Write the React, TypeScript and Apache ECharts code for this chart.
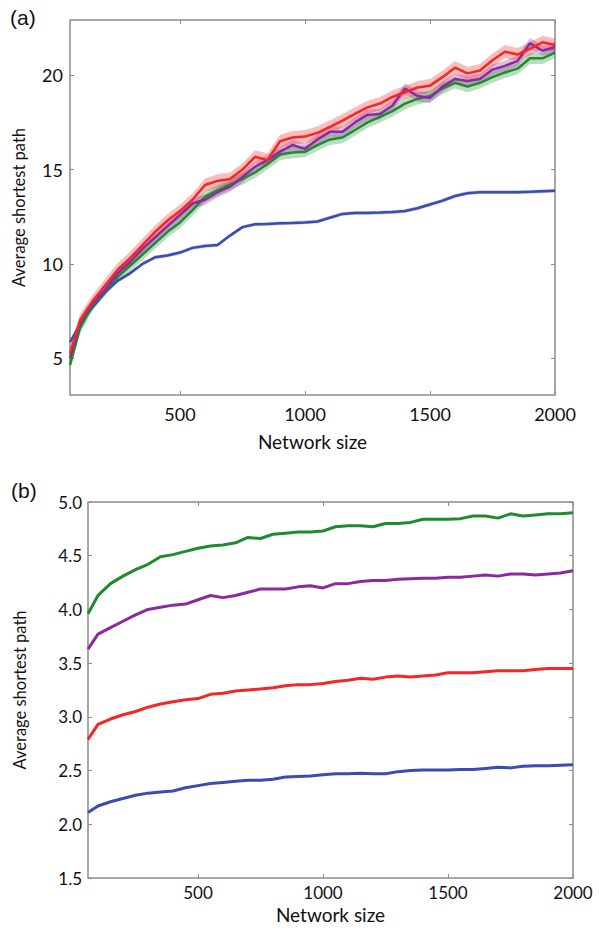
import React, { useEffect, useRef } from "react";
import * as echarts from "echarts";

// Network sizes (x)
const sizes = [60, 100, 150, 200, 250, 300, 350, 400, 450, 500, 550, 600, 650, 700, 750, 800, 850, 900, 950, 1000,
  1050, 1100, 1150, 1200, 1250, 1300, 1350, 1400, 1450, 1500, 1550, 1600, 1650, 1700, 1750, 1800, 1850, 1900, 1950, 2000];

// Panel (a)
const aBlue = [5.85, 6.8, 7.7, 8.5, 9.1, 9.5, 10.0, 10.35, 10.45, 10.6, 10.85, 10.95, 11.0, 11.5, 11.95, 12.1, 12.12, 12.15, 12.17, 12.2,
  12.25, 12.45, 12.65, 12.7, 12.7, 12.72, 12.75, 12.8, 12.95, 13.15, 13.35, 13.6, 13.75, 13.8, 13.8, 13.8, 13.8, 13.82, 13.85, 13.88];
const aRed = [5.26, 7.0, 8.0, 8.85, 9.68, 10.3, 11.0, 11.7, 12.3, 12.8, 13.4, 14.18, 14.4, 14.5, 15.0, 15.68, 15.5, 16.5, 16.7, 16.75,
  16.95, 17.27, 17.6, 17.95, 18.3, 18.5, 18.85, 19.1, 19.35, 19.45, 19.9, 20.4, 20.1, 20.25, 20.8, 21.25, 21.1, 21.4, 21.75, 21.6];
const aPurple = [5.0, 6.9, 7.9, 8.6, 9.5, 10.1, 10.8, 11.4, 12.0, 12.6, 13.2, 13.4, 13.8, 14.1, 14.6, 15.15, 15.5, 15.95, 16.3, 16.1,
  16.6, 17.0, 17.0, 17.5, 17.9, 17.95, 18.4, 19.3, 18.9, 18.8, 19.4, 19.8, 19.7, 19.8, 20.3, 20.5, 20.75, 21.7, 21.3, 21.5];
const aGreen = [4.65, 6.6, 7.8, 8.6, 9.3, 9.9, 10.5, 11.1, 11.7, 12.2, 12.85, 13.56, 13.9, 14.2, 14.5, 14.85, 15.3, 15.8, 15.9, 15.95,
  16.3, 16.6, 16.7, 17.1, 17.5, 17.8, 18.1, 18.5, 18.75, 18.9, 19.3, 19.6, 19.4, 19.6, 19.9, 20.15, 20.35, 20.9, 20.9, 21.2];
// band half-widths read from the shaded regions
const aSpread = { blue: 0.1, red: 0.35, purple: 0.28, green: 0.3 };

// Panel (b)
const bGreen = [3.96, 4.13, 4.24, 4.31, 4.37, 4.42, 4.49, 4.51, 4.54, 4.57, 4.59, 4.60, 4.62, 4.67, 4.66, 4.70, 4.71, 4.72, 4.72, 4.73,
  4.77, 4.78, 4.78, 4.77, 4.80, 4.80, 4.81, 4.84, 4.84, 4.84, 4.845, 4.87, 4.87, 4.85, 4.89, 4.87, 4.88, 4.89, 4.89, 4.90];
const bPurple = [3.63, 3.77, 3.83, 3.89, 3.95, 4.00, 4.02, 4.04, 4.05, 4.09, 4.13, 4.11, 4.13, 4.16, 4.19, 4.19, 4.19, 4.21, 4.22, 4.20,
  4.24, 4.24, 4.26, 4.27, 4.27, 4.28, 4.285, 4.29, 4.29, 4.30, 4.30, 4.31, 4.32, 4.31, 4.33, 4.33, 4.32, 4.33, 4.34, 4.36];
const bRed = [2.79, 2.93, 2.98, 3.02, 3.05, 3.09, 3.12, 3.14, 3.16, 3.17, 3.21, 3.22, 3.24, 3.25, 3.26, 3.27, 3.29, 3.30, 3.30, 3.31,
  3.33, 3.34, 3.36, 3.35, 3.37, 3.38, 3.37, 3.38, 3.39, 3.41, 3.41, 3.41, 3.42, 3.43, 3.43, 3.43, 3.44, 3.45, 3.45, 3.45];
const bBlue = [2.11, 2.17, 2.21, 2.24, 2.27, 2.29, 2.30, 2.31, 2.34, 2.36, 2.38, 2.39, 2.40, 2.41, 2.41, 2.42, 2.44, 2.445, 2.45, 2.46,
  2.47, 2.47, 2.475, 2.47, 2.47, 2.49, 2.50, 2.505, 2.505, 2.505, 2.51, 2.51, 2.52, 2.53, 2.525, 2.54, 2.545, 2.545, 2.55, 2.555];

const xTicks = [500, 1000, 1500, 2000];
const aYTicks = [5, 10, 15, 20];
const bYTicks = [1.5, 2.0, 2.5, 3.0, 3.5, 4.0, 4.5, 5.0];

const COLORS = { blue: "#3a4cb0", red: "#f42626", purple: "#8a2a9c", green: "#1f8a30" };

const FONT = "Lato";

export default function App() {
  const ref = useRef<HTMLDivElement>(null);
  useEffect(() => {
    if (!ref.current) return;
    const chart = echarts.init(ref.current, null, { renderer: "svg" });
    const pair = (arr: number[]) => arr.map((v, i) => [sizes[i], v]);
    const frameColor = "#8c8c8c";

    const series: any[] = [];
    const bandSeries = (vals: number[], spread: number, color: string, gi: number) => {
      const rows = vals.map((v, i) => [sizes[i], v - spread, v + spread]);
      series.push({
        type: "custom", xAxisIndex: gi * 2, yAxisIndex: gi * 2, silent: true, z: 1,
        data: rows,
        encode: { x: 0, y: [1, 2] },
        renderItem: (params: any, api: any) => {
          if (params.dataIndex !== 0) return null;
          const upper = rows.map((r) => api.coord([r[0], r[2]]));
          const lower = rows.map((r) => api.coord([r[0], r[1]])).reverse();
          return {
            type: "polygon",
            shape: { points: upper.concat(lower) },
            style: { fill: color, opacity: 0.3 },
          };
        },
      });
    };
    const lineSeries = (vals: number[], color: string, gi: number, width: number) => {
      series.push({
        type: "line", xAxisIndex: gi * 2, yAxisIndex: gi * 2, symbol: "none", silent: true,
        data: pair(vals), lineStyle: { color, width }, z: 3,
      });
    };

    bandSeries(aBlue, aSpread.blue, COLORS.blue, 0);
    bandSeries(aGreen, aSpread.green, COLORS.green, 0);
    bandSeries(aPurple, aSpread.purple, COLORS.purple, 0);
    bandSeries(aRed, aSpread.red, COLORS.red, 0);
    lineSeries(aBlue, COLORS.blue, 0, 2.5);
    lineSeries(aGreen, COLORS.green, 0, 2.5);
    lineSeries(aPurple, COLORS.purple, 0, 2.5);
    lineSeries(aRed, COLORS.red, 0, 2.5);

    lineSeries(bGreen, COLORS.green, 1, 3);
    lineSeries(bPurple, COLORS.purple, 1, 3);
    lineSeries(bRed, COLORS.red, 1, 3);
    lineSeries(bBlue, COLORS.blue, 1, 3);

    const tickStyle = { inside: true, length: 4, lineStyle: { color: frameColor, width: 1 } };
    const labelStyle = (size: number, margin: number) => ({ fontFamily: FONT, fontSize: size, color: "#111", margin });
    const nameStyle = (size: number) => ({ fontFamily: FONT, fontSize: size, color: "#111" });

    const xAxes: any[] = [];
    const yAxes: any[] = [];
    const yCfg = [
      { min: 3.05, max: 22.93, ticks: aYTicks, fmt: (v: number) => String(v), size: 18, gap: 43, margin: 7 },
      { min: 1.5, max: 5.0, ticks: bYTicks, fmt: (v: number) => v.toFixed(1), size: 17, gap: 60, margin: 6 },
    ];
    const xCfg = [
      { size: 18, gap: 37, margin: 10 },
      { size: 17, gap: 27, margin: 6 },
    ];
    [0, 1].forEach((gi) => {
      xAxes.push({
        gridIndex: gi, type: "value", min: 60, max: 2000, position: "bottom",
        axisLine: { show: false }, splitLine: { show: false },
        axisTick: { ...tickStyle, customValues: xTicks },
        axisLabel: { ...labelStyle(xCfg[gi].size, xCfg[gi].margin), customValues: xTicks, formatter: (v: number) => String(v) },
        name: "Network size", nameLocation: "middle", nameGap: xCfg[gi].gap, nameTextStyle: nameStyle(19),
      });
      xAxes.push({
        gridIndex: gi, type: "value", min: 60, max: 2000, position: "top",
        axisLine: { show: false }, splitLine: { show: false },
        axisTick: { ...tickStyle, customValues: xTicks }, axisLabel: { show: false },
      });
      const c = yCfg[gi];
      yAxes.push({
        gridIndex: gi, type: "value", min: c.min, max: c.max, position: "left",
        axisLine: { show: false }, splitLine: { show: false },
        axisTick: { ...tickStyle, customValues: c.ticks },
        axisLabel: { ...labelStyle(c.size, c.margin), customValues: c.ticks, formatter: c.fmt },
        name: "Average shortest path", nameLocation: "middle", nameGap: c.gap, nameTextStyle: nameStyle(16.5),
      });
      yAxes.push({
        gridIndex: gi, type: "value", min: c.min, max: c.max, position: "right",
        axisLine: { show: false }, splitLine: { show: false },
        axisTick: { ...tickStyle, customValues: c.ticks }, axisLabel: { show: false },
      });
    });

    chart.setOption({
      animation: false,
      backgroundColor: "#ffffff",
      grid: [
        { left: 70, top: 20, width: 485, height: 375, show: true, borderColor: frameColor, borderWidth: 1.5 },
        { left: 88, top: 502, width: 485, height: 376, show: true, borderColor: frameColor, borderWidth: 1.5 },
      ],
      xAxis: xAxes,
      yAxis: yAxes,
      series,
      graphic: [
        { type: "text", left: 10, top: 7, style: { text: "(a)", fontFamily: "Liberation Sans", fontSize: 21, fill: "#111" } },
        { type: "text", left: 11, top: 480, style: { text: "(b)", fontFamily: "Liberation Sans", fontSize: 21, fill: "#111" } },
      ],
    });
    return () => chart.dispose();
  }, []);
  return <div ref={ref} style={{ position: "fixed", left: 0, top: 0, width: 599, height: 930 }} />;
}
